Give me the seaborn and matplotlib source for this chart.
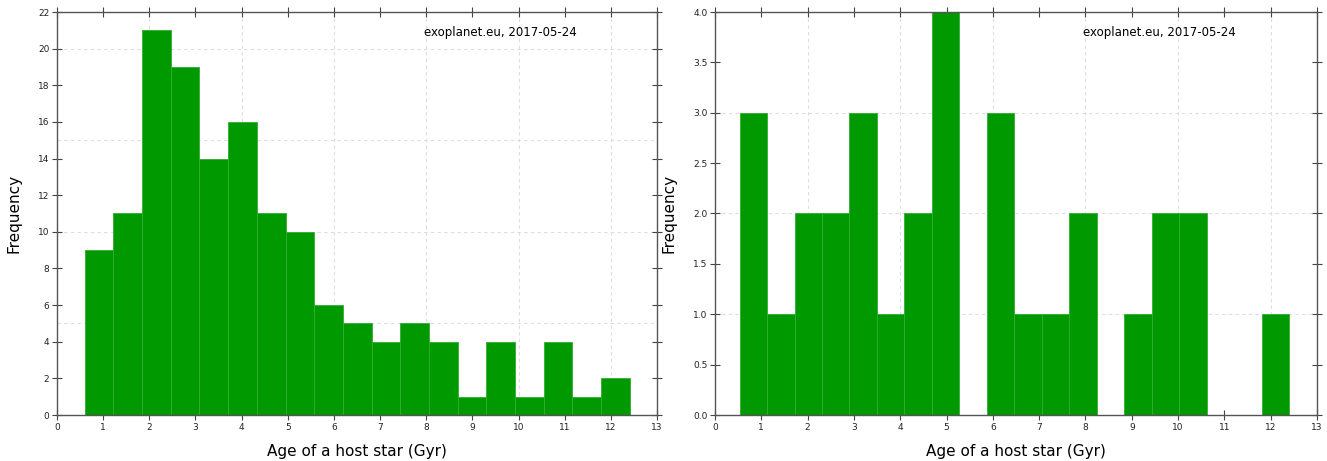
import numpy as np
import pandas as pd
import matplotlib
matplotlib.use("Agg")
import matplotlib.pyplot as plt
import seaborn as sns

# ---- data ----
left_counts = [9, 11, 21, 19, 14, 16, 11, 10, 6, 5, 4, 5, 4, 1, 4, 1, 4, 1, 2]
left_start, left_stop = 0.60, 12.41
right_counts = [3, 1, 2, 2, 3, 1, 2, 4, 0, 3, 1, 1, 2, 0, 1, 2, 2, 0, 0, 1]
right_start, right_stop = 0.53, 12.40
source_text = "exoplanet.eu, 2017-05-24"
xlabel = "Age of a host star (Gyr)"
ylabel = "Frequency"

sns.set_style("ticks")
plt.rcParams['font.family'] = ['DejaVu Sans']
plt.rcParams['text.color'] = 'black'
plt.rcParams['axes.labelcolor'] = 'black'
plt.rcParams['xtick.bottom'] = True
plt.rcParams['xtick.top'] = True
plt.rcParams['ytick.left'] = True
plt.rcParams['ytick.right'] = True
plt.rcParams['xtick.direction'] = 'inout'
plt.rcParams['ytick.direction'] = 'inout'

fig = plt.figure(figsize=(13.27, 4.61), dpi=100)
ax1 = fig.add_axes([57/1327, 1-415/461, 600/1327, 403/461])
ax2 = fig.add_axes([715/1327, 1-415/461, 602/1327, 403/461])

def draw(ax, counts, start, stop, ymax, ystep, ygrid):
    edges = [float(e) for e in np.linspace(start, stop, len(counts) + 1)]
    centers = [(edges[i] + edges[i + 1]) / 2 for i in range(len(counts))]
    df = pd.DataFrame({"age": centers, "n": counts})
    sns.histplot(data=df, x="age", weights="n", bins=edges, ax=ax,
                 color="#009900", alpha=1.0, edgecolor="#2fae2f", linewidth=0.6)
    ax.set_xlim(0, 13)
    ax.set_ylim(0, ymax)
    # grid lines (dashed, light) at coarser spacing
    for gx in range(2, 13, 2):
        ax.axvline(gx, color="#dddddd", ls=(0, (3, 3)), lw=0.8, zorder=0)
    for gy in ygrid:
        ax.axhline(gy, color="#dddddd", ls=(0, (3, 3)), lw=0.8, zorder=0)
    ax.set_xticks(range(0, 14))
    yt = np.arange(0, ymax + ystep / 2, ystep)
    ax.set_yticks(yt)
    if ystep < 1:
        ax.set_yticklabels([f"{v:.1f}" for v in yt])
    ax.tick_params(which="major", direction="inout", length=7, width=0.8,
                   color="#444444", labelcolor="#222222", labelsize=6.5, pad=2,
                   top=True, right=True, bottom=True, left=True,
                   labeltop=False, labelright=False, labelbottom=True, labelleft=True)
    for s in ax.spines.values():
        s.set_visible(True)
        s.set_color("#555555")
        s.set_linewidth(1.0)
    ax.set_xlabel(xlabel, fontsize=11, labelpad=9)
    ax.set_ylabel(ylabel, fontsize=11, labelpad=12)
    ax.text(0.612, 0.948, source_text, transform=ax.transAxes,
            ha="left", va="center", fontsize=8.5, color="black")
    ax.set_axisbelow(True)

draw(ax1, left_counts, left_start, left_stop, 22, 2, [5, 10, 15, 20])
draw(ax2, right_counts, right_start, right_stop, 4.0, 0.5, [1, 2, 3])

fig.savefig("out.png", dpi=100)
